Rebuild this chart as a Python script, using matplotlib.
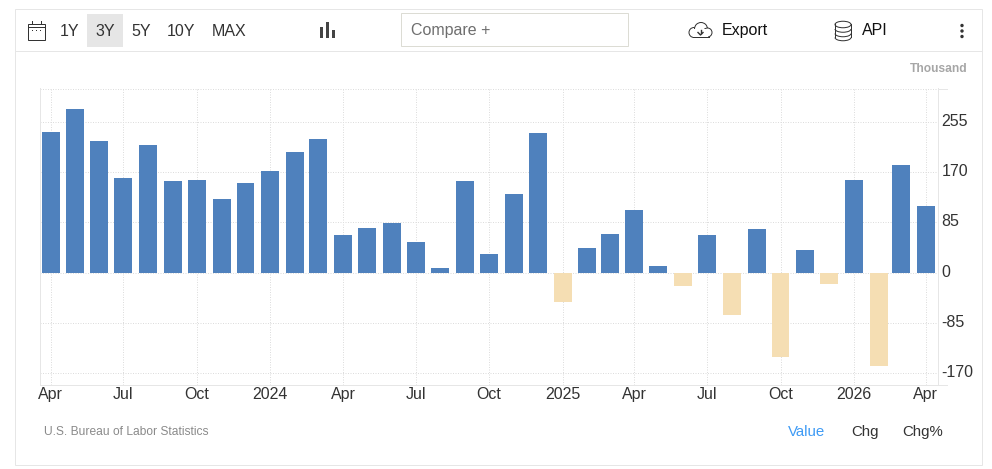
# Monthly change chart with the toolbar and footer around it

import matplotlib
matplotlib.use("Agg")
from matplotlib import pyplot as plt
from matplotlib.patches import Rectangle, Ellipse, Circle, Arc
from matplotlib.transforms import ScaledTranslation
import pandas as pd

WIDTH, HEIGHT = 992, 469

months = ["Apr 2023", "May 2023", "Jun 2023", "Jul 2023", "Aug 2023", "Sep 2023", "Oct 2023",
          "Nov 2023", "Dec 2023", "Jan 2024", "Feb 2024", "Mar 2024", "Apr 2024", "May 2024",
          "Jun 2024", "Jul 2024", "Aug 2024", "Sep 2024", "Oct 2024", "Nov 2024", "Dec 2024",
          "Jan 2025", "Feb 2025", "Mar 2025", "Apr 2025", "May 2025", "Jun 2025", "Jul 2025",
          "Aug 2025", "Sep 2025", "Oct 2025", "Nov 2025", "Dec 2025", "Jan 2026", "Feb 2026",
          "Mar 2026", "Apr 2026"]
values = [238, 277, 223, 160, 216, 154, 157, 125, 152, 172, 204, 226, 63, 76, 84, 51, 7,
          154, 32, 132, 235, -49, 41, 66, 106, 12, -22, 63, -71, 74, -142, 39, -19, 157,
          -157, 182, 113]
x_tick_labels = ["Apr", "Jul", "Oct", "2024", "Apr", "Jul", "Oct", "2025", "Apr", "Jul",
                 "Oct", "2026", "Apr"]
y_ticks = [-170, -85, 0, 85, 170, 255]
range_buttons = ["1Y", "3Y", "5Y", "10Y", "MAX"]
range_x = [69.5, 105, 141, 181, 229]
footer_buttons = ["Value", "Chg", "Chg%"]
footer_x = [807, 865, 923]

BLUE = "#4f81bd"
SAND = "#f5deb3"
GRID = "#dddddd"
BORDER = "#e6e6e6"
TEXT = "#333333"
HAIR = 0.72  # one pixel line at dpi 100

plt.rcParams["font.family"] = ["Liberation Sans", "DejaVu Sans"]


def px(size):
    # font size in points for a size in pixels at dpi 100
    return size * 0.72


def drawChart(fig):
    left, right, top, bottom = 39.5, 937.5, 88.5, 384.5
    ax = fig.add_axes([left / WIDTH, 1 - bottom / HEIGHT, (right - left) / WIDTH, (bottom - top) / HEIGHT])
    dates = pd.to_datetime(months, format="%b %Y")
    colors = [BLUE if v >= 0 else SAND for v in values]
    ax.bar(dates, values, width=22.5, color=colors, zorder=3)
    ax.set_xlim(dates[0] - pd.Timedelta(days=14), dates[-1] + pd.Timedelta(days=14.6))
    ax.set_ylim(-189, 311)

    ax.set_xticks(dates[::3])
    ax.set_xticklabels(x_tick_labels, fontsize=px(16), color=TEXT)
    ax.set_yticks(y_ticks)
    ax.set_yticklabels([str(t) for t in y_ticks], fontsize=px(16), color=TEXT)
    ax.yaxis.tick_right()
    ax.tick_params(axis="both", length=0)
    ax.tick_params(axis="x", pad=1.5)
    ax.tick_params(axis="y", pad=3)
    shift = ScaledTranslation(0, 2 / 100, fig.dpi_scale_trans)
    for label in ax.get_yticklabels():
        label.set_transform(label.get_transform() + shift)

    ax.grid(True, color=GRID, linewidth=HAIR, linestyle=(0, (1, 1.5)), zorder=0)
    ax.axhline(310, color=GRID, linewidth=HAIR, linestyle=(0, (1, 1.5)), zorder=0)
    ax.spines["top"].set_visible(False)
    for side in ["left", "right", "bottom"]:
        ax.spines[side].set_color(BORDER)
        ax.spines[side].set_linewidth(HAIR)
    return ax


def drawChrome(fig):
    # overlay in image pixel coordinates, y pointing down
    ov = fig.add_axes([0, 0, 1, 1], zorder=5)
    ov.set_xlim(0, WIDTH)
    ov.set_ylim(HEIGHT, 0)
    ov.axis("off")
    ov.patch.set_alpha(0)

    ov.add_patch(Rectangle((14.5, 9.5), 967, 456, fill=False, edgecolor=BORDER, linewidth=HAIR))
    ov.plot([14.5, 981.5], [51.5, 51.5], color=BORDER, linewidth=HAIR)

    # axis lines running past the plot on the right
    ov.plot([937.5, 947], [385, 385], color=BORDER, linewidth=HAIR)
    ov.plot([937.5, 947], [89, 89], color=BORDER, linewidth=HAIR)

    # calendar icon
    ov.add_patch(Rectangle((27.5, 24.5), 17, 16, fill=False, edgecolor=TEXT, linewidth=HAIR))
    ov.plot([27.5, 44.5], [27.5, 27.5], color=TEXT, linewidth=HAIR)
    ov.plot([31.5, 31.5], [21.5, 24.5], color=TEXT, linewidth=HAIR)
    ov.plot([40.5, 40.5], [21.5, 24.5], color=TEXT, linewidth=HAIR)
    for dot_x in [32, 36, 40]:
        ov.add_patch(Rectangle((dot_x - 0.5, 30), 1.4, 1.4, color=TEXT, linewidth=0))

    # range buttons
    ov.add_patch(Rectangle((87, 14), 36, 33, color="#e6e6e6", linewidth=0))
    for label, x in zip(range_buttons, range_x):
        ov.text(x, 31.5, label, fontsize=px(16), color=TEXT, ha="center", va="center")

    # bar type icon
    for x, y0 in [(321, 27), (327, 22), (333, 30)]:
        ov.add_patch(Rectangle((x - 1, y0), 2.6, 38 - y0, color="#444444", linewidth=0))

    # compare box
    ov.add_patch(Rectangle((400.5, 13.5), 227, 33, facecolor="white", edgecolor="#dcdcd4", linewidth=HAIR))
    ov.text(411, 30, "Compare +", fontsize=px(16), color="#6e6e6e", ha="left", va="center")

    # cloud icon
    for cx, cy, r in [(694, 32.5, 5), (701, 29, 6.5), (707.5, 32.5, 4.5)]:
        ov.add_patch(Circle((cx, cy), r, facecolor="white", edgecolor="#333333", linewidth=HAIR))
    ov.add_patch(Rectangle((693, 29), 15, 8, color="white", linewidth=0, zorder=3))
    ov.plot([693, 709], [37.5, 37.5], color="#333333", linewidth=HAIR, zorder=4)
    ov.plot([700.5, 700.5], [30, 33], color="#333333", linewidth=1, zorder=4)
    ov.plot([698, 700.5, 703], [32.5, 35, 32.5], color="#333333", linewidth=1, zorder=4)
    ov.text(722, 30.5, "Export", fontsize=px(16), color="#111111", ha="left", va="center")

    # database icon
    ov.add_patch(Ellipse((843, 24.5), 16, 6.5, fill=False, edgecolor="#333333", linewidth=HAIR))
    ov.plot([835, 835], [24.5, 37.5], color="#333333", linewidth=HAIR)
    ov.plot([851, 851], [24.5, 37.5], color="#333333", linewidth=HAIR)
    for cy in [29, 33.5, 37.5]:
        ov.add_patch(Arc((843, cy), 16, 6.5, theta1=0, theta2=180, edgecolor="#333333", linewidth=HAIR))
    ov.text(862, 30.5, "API", fontsize=px(16), color="#111111", ha="left", va="center")

    # menu dots
    for cy in [25.5, 31, 36.5]:
        ov.add_patch(Circle((962, cy), 1.7, color="#333333", linewidth=0))

    ov.text(967, 68.5, "Thousand", fontsize=px(12), color="#a6a6a6", ha="right", va="center", fontweight="bold")
    ov.text(44.5, 432, "U.S. Bureau of Labor Statistics", fontsize=px(12), color="#8a8a8a", ha="left", va="center")

    for label, x in zip(footer_buttons, footer_x):
        color = "#3f9bf5" if label == "Value" else TEXT
        ov.text(x, 432, label, fontsize=px(15), color=color, ha="center", va="center")


def createGraph():
    fig = plt.figure(figsize=(WIDTH / 100, HEIGHT / 100), dpi=100, facecolor="white")
    drawChart(fig)
    drawChrome(fig)
    fig.savefig("out.png", dpi=100)


createGraph()
